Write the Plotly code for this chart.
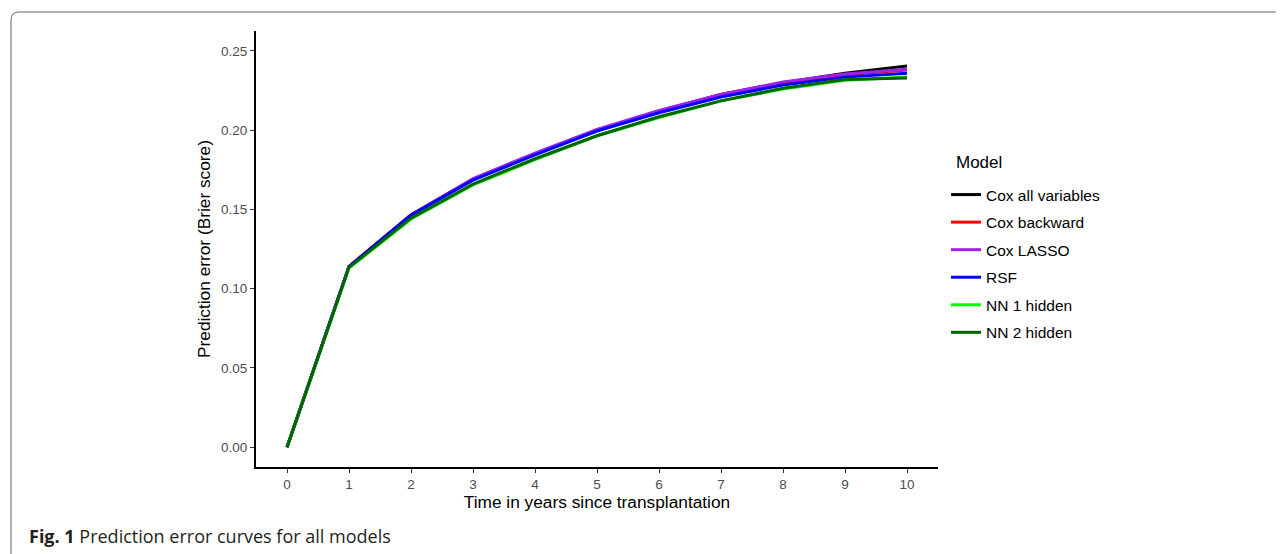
import plotly.graph_objects as go

years = [0, 1, 2, 3, 4, 5, 6, 7, 8, 9, 10]
cox_all = [0.0, 0.1140, 0.1465, 0.1690, 0.1850, 0.2000, 0.2120, 0.2225, 0.2300, 0.2360, 0.2405]
cox_backward = [0.0, 0.1140, 0.1465, 0.1690, 0.1850, 0.2000, 0.2120, 0.2225, 0.2300, 0.2350, 0.2380]
cox_lasso = [0.0, 0.1140, 0.1465, 0.1695, 0.1855, 0.2005, 0.2125, 0.2225, 0.2305, 0.2355, 0.2385]
rsf = [0.0, 0.1140, 0.1465, 0.1685, 0.1845, 0.1995, 0.2110, 0.2210, 0.2285, 0.2335, 0.2360]
nn1 = [0.0, 0.1130, 0.1440, 0.1655, 0.1815, 0.1965, 0.2080, 0.2185, 0.2260, 0.2315, 0.2335]
nn2 = [0.0, 0.1135, 0.1445, 0.1660, 0.1820, 0.1965, 0.2085, 0.2185, 0.2265, 0.2320, 0.2330]

series = [
    ("Cox all variables", cox_all, "#000000"),
    ("Cox backward", cox_backward, "#FF0000"),
    ("Cox LASSO", cox_lasso, "#A020F0"),
    ("RSF", rsf, "#0000FF"),
    ("NN 1 hidden", nn1, "#00FF00"),
    ("NN 2 hidden", nn2, "#006400"),
]

fig = go.Figure()
for name, vals, col in series:
    fig.add_trace(go.Scatter(x=years, y=vals, mode="lines", name=name,
                             legendgroup=name,
                             line=dict(color=col, width=3)))

OFF = 8  # page body margin
L, R, T, B = 256 - OFF, 938 - OFF, 31 - OFF, 467 - OFF
W, H = 1284, 554
pw, ph = R - L, B - T

def px(x):
    return (x - OFF - L) / pw

def py(y):
    return (B - (y - OFF)) / ph

# frame with rounded top-left corner
x0, y0 = px(11), py(12)
x1, yb = px(1300), py(570)
rx, ry = 8 / pw, 8 / ph
path = (f"M {x0},{yb} L {x0},{y0 - ry} Q {x0},{y0} {x0 + rx},{y0} L {x1},{y0}")

fig.update_layout(
    width=W, height=H,
    margin=dict(l=L, r=W - R, t=T, b=H - B),
    paper_bgcolor="white", plot_bgcolor="white",
    font=dict(family="Liberation Sans, Arial, sans-serif", color="#000000"),
    showlegend=True,
    legend=dict(
        x=px(946), y=py(178), xanchor="left", yanchor="top",
        font=dict(size=15.5, color="#000000"),
        tracegroupgap=4.4,
        bgcolor="rgba(0,0,0,0)",
    ),
    xaxis=dict(
        range=[-0.5, 10.5], tickmode="array", tickvals=years,
        ticktext=[str(v) for v in years],
        showgrid=False, zeroline=False,
        showline=True, linecolor="#000000", linewidth=2,
        ticks="outside", ticklen=4, tickwidth=1, tickcolor="#333333",
        tickfont=dict(size=13.5, color="#4D4D4D"),
        title=dict(text="Time in years since transplantation", font=dict(size=17.3, color="#000000"), standoff=1),
    ),
    yaxis=dict(
        range=[-0.0125, 0.2626], tickmode="array",
        tickvals=[0, 0.05, 0.10, 0.15, 0.20, 0.25],
        ticktext=["0.00", "0.05", "0.10", "0.15", "0.20", "0.25"],
        showgrid=False, zeroline=False,
        showline=True, linecolor="#000000", linewidth=2,
        ticks="outside", ticklen=4, tickwidth=1, tickcolor="#333333",
        tickfont=dict(size=13.5, color="#4D4D4D"),
        title=dict(text="Prediction error (Brier score)", font=dict(size=17.3, color="#000000"), standoff=6),
    ),
    shapes=[dict(type="path", path=path, xref="paper", yref="paper",
                 line=dict(color="#666666", width=1), layer="below")],
    annotations=[
        dict(
            text="Model", x=px(954), y=py(162), xref="paper", yref="paper",
            xanchor="left", yanchor="middle", showarrow=False,
            font=dict(size=17, color="#000000"),
        ),
        dict(
            text="<b>Fig. 1</b> Prediction error curves for all models",
            x=px(27), y=py(536), xref="paper", yref="paper",
            xanchor="left", yanchor="middle", showarrow=False,
            font=dict(family="Open Sans, Noto Sans, sans-serif", size=18, color="#231F20"),
        ),
    ],
)

fig.write_html("out.html")
